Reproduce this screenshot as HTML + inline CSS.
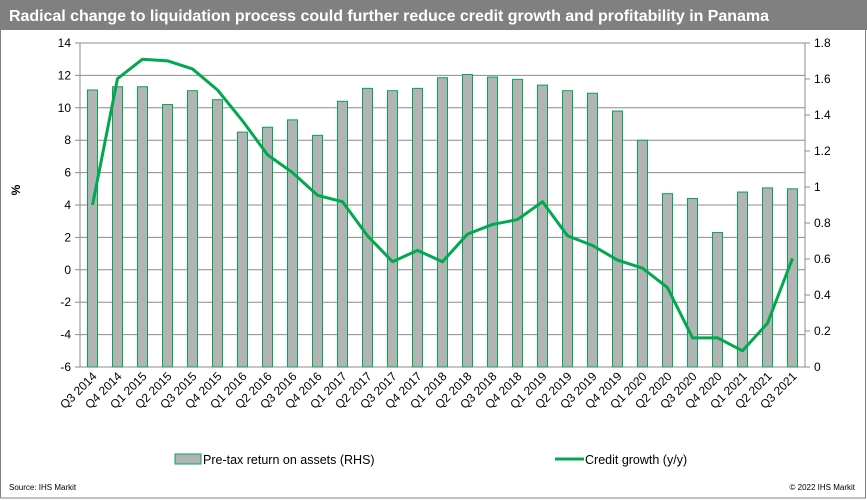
<!DOCTYPE html>
<html><head><meta charset="utf-8"><style>
body{margin:0;background:#fff;font-family:"Liberation Sans",Arial,sans-serif}
#wrap{position:relative;width:867px;height:500px;overflow:hidden}
</style></head><body>
<div id="wrap">
<svg id="svg" width="867" height="500" xmlns="http://www.w3.org/2000/svg" font-family="Liberation Sans, Arial, sans-serif">
<rect x="0.5" y="0.5" width="865" height="497.5" fill="#fff" stroke="#808080"/>
<rect x="0" y="0" width="867" height="30" fill="#808080"/>
<text x="9" y="21" font-size="16" font-weight="bold" fill="#fff" textLength="760" lengthAdjust="spacing">Radical change to liquidation process could further reduce credit growth and profitability  in Panama</text>
<g id="grid"></g><g id="bars"></g><g id="line"></g><g id="axes"></g>
<text transform="translate(20,190) rotate(-90)" font-size="12" font-weight="bold" text-anchor="middle">%</text>
<rect x="175" y="454" width="26" height="10" fill="#b3b3b5" stroke="#00a84f"/>
<text x="203" y="464" font-size="12.5">Pre-tax return on assets (RHS)</text>
<line x1="555" y1="459" x2="584" y2="459" stroke="#00a84f" stroke-width="3"/>
<text x="585" y="464" font-size="12.5">Credit growth (y/y)</text>
<text x="9" y="490" font-size="8">Source:  IHS Markit</text>
<text x="855" y="490" font-size="8" text-anchor="end">© 2022  IHS Markit</text>
</svg></div>
<script>
const categories=["Q3 2014","Q4 2014","Q1 2015","Q2 2015","Q3 2015","Q4 2015","Q1 2016","Q2 2016","Q3 2016","Q4 2016","Q1 2017","Q2 2017","Q3 2017","Q4 2017","Q1 2018","Q2 2018","Q3 2018","Q4 2018","Q1 2019","Q2 2019","Q3 2019","Q4 2019","Q1 2020","Q2 2020","Q3 2020","Q4 2020","Q1 2021","Q2 2021","Q3 2021"];
const roaValues=[1.539,1.557,1.557,1.458,1.535,1.485,1.305,1.332,1.373,1.287,1.476,1.548,1.535,1.548,1.607,1.625,1.611,1.598,1.566,1.535,1.521,1.422,1.26,0.963,0.936,0.747,0.972,0.995,0.99];
const creditValues=[4.0,11.8,13.0,12.9,12.4,11.1,9.2,7.1,6.0,4.6,4.2,2.1,0.5,1.2,0.5,2.2,2.8,3.1,4.2,2.1,1.5,0.6,0.1,-1.1,-4.2,-4.2,-5.0,-3.3,0.7];
const leftTicks=[-6,-4,-2,0,2,4,6,8,10,12,14];
const rightTicks=["0","0.2","0.4","0.6","0.8","1","1.2","1.4","1.6","1.8"];
const NS="http://www.w3.org/2000/svg";
const X0=80,X1=805,YT=43,YB=367;
const step=(X1-X0)/categories.length;
const xc=i=>X0+step*(i+0.5);
const yL=v=>YB-(v+6)/20*(YB-YT);
const yR=v=>YB-v/1.8*(YB-YT);
function mk(t,a,p){const e=document.createElementNS(NS,t);for(const k in a)e.setAttribute(k,a[k]);p.appendChild(e);return e;}
const grid=document.getElementById('grid'),bars=document.getElementById('bars'),line=document.getElementById('line'),axes=document.getElementById('axes');
leftTicks.forEach(v=>{
  const g=mk('line',{x1:X0-5,x2:X1,y1:yL(v),y2:yL(v),stroke:'#8c8c8c','stroke-width':1},grid);
  
  
  const t=mk('text',{x:X0-9,y:yL(v)+4,'font-size':12,'text-anchor':'end'},axes);t.textContent=v;
  
  
});
rightTicks.forEach(s=>{
  const v=parseFloat(s);
  const tk=mk('line',{x1:X1,x2:X1+5,y1:yR(v),y2:yR(v),stroke:'#8c8c8c'},axes);
  
  
  const t=mk('text',{x:X1+9,y:yR(v)+4,'font-size':12},axes);t.textContent=s;
  
  
});
const la=mk('line',{x1:X0,x2:X0,y1:YT,y2:YB,stroke:'#8c8c8c'},axes);


const ra=mk('line',{x1:X1,x2:X1,y1:YT,y2:YB,stroke:'#8c8c8c'},axes);


categories.forEach((c,i)=>{
  const y=yR(roaValues[i]);
  const b=mk('rect',{x:xc(i)-5,y:y,width:10,height:YB-y,fill:'#b3b3b5',stroke:'#00a84f','stroke-width':1},bars);
  
  
  const t=mk('text',{transform:`translate(${xc(i)+5},${YB+10}) rotate(-45)`,'font-size':12,'text-anchor':'end'},axes);t.textContent=c;
  
  
});
const pts=creditValues.map((v,i)=>xc(i)+','+yL(v)).join(' ');
const pl=mk('polyline',{points:pts,fill:'none',stroke:'#00a84f','stroke-width':3,'stroke-linejoin':'round'},line);


</script>
</body></html>
